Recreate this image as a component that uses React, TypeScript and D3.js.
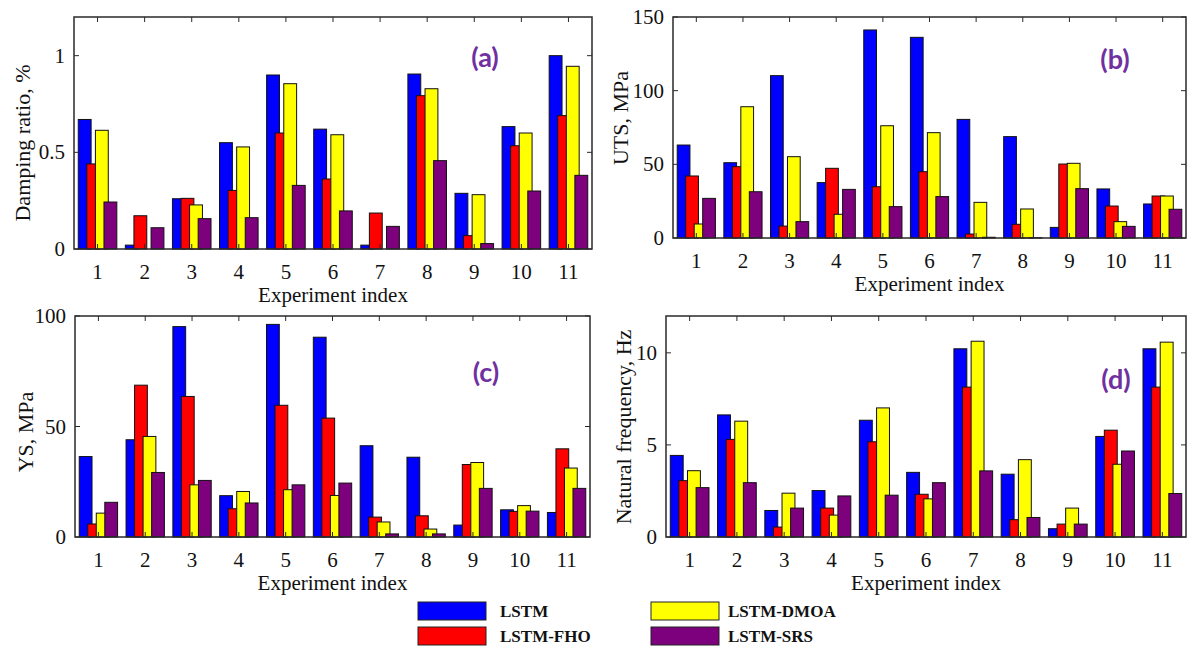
import React from 'react';
import * as d3 from 'd3';

// Experiment indices shared by all four panels
const experiments = [1, 2, 3, 4, 5, 6, 7, 8, 9, 10, 11];

const seriesNames = ['LSTM', 'LSTM-FHO', 'LSTM-DMOA', 'LSTM-SRS'];
const seriesColors = ['#0000ff', '#ff0000', '#ffff00', '#7d007d'];

// (a) Damping ratio, %
const dampingLSTM = [0.67, 0.02, 0.26, 0.55, 0.9, 0.62, 0.02, 0.905, 0.288, 0.633, 1.0];
const dampingFHO = [0.44, 0.172, 0.262, 0.303, 0.6, 0.362, 0.186, 0.793, 0.069, 0.534, 0.69];
const dampingDMOA = [0.614, 0, 0.228, 0.528, 0.855, 0.591, 0, 0.829, 0.281, 0.6, 0.945];
const dampingSRS = [0.243, 0.11, 0.157, 0.162, 0.329, 0.197, 0.117, 0.457, 0.028, 0.3, 0.381];

// (b) UTS, MPa
const utsLSTM = [63.1, 51.1, 110.2, 37.6, 141.2, 136.2, 80.5, 68.8, 7.2, 33.3, 23.1];
const utsFHO = [42.1, 48.4, 8.1, 47.3, 34.8, 45.0, 2.7, 9.3, 50.2, 21.7, 28.5];
const utsDMOA = [9.5, 89.1, 55.2, 16.1, 76.2, 71.5, 24.2, 19.7, 50.7, 11.1, 28.5];
const utsSRS = [26.9, 31.4, 11.1, 33.0, 21.3, 28.1, 0.5, 0.2, 33.5, 7.9, 19.5];

// (c) YS, MPa
const ysLSTM = [36.4, 44.0, 95.2, 18.7, 96.2, 90.4, 41.3, 36.1, 5.4, 12.3, 11.1];
const ysFHO = [5.9, 68.7, 63.6, 12.8, 59.6, 53.8, 9.0, 9.6, 32.8, 11.6, 39.9];
const ysDMOA = [10.8, 45.5, 23.6, 20.6, 21.4, 18.8, 6.8, 3.6, 33.7, 14.2, 31.2];
const ysSRS = [15.7, 29.2, 25.6, 15.4, 23.6, 24.4, 1.4, 1.4, 22.0, 11.7, 22.0];

// (d) Natural frequency, Hz
const freqLSTM = [4.43, 6.63, 1.44, 2.52, 6.34, 3.51, 10.22, 3.41, 0.45, 5.46, 10.22];
const freqFHO = [3.06, 5.3, 0.54, 1.57, 5.17, 2.32, 8.14, 0.94, 0.7, 5.8, 8.14];
const freqDMOA = [3.6, 6.29, 2.38, 1.19, 7.01, 2.07, 10.63, 4.2, 1.57, 3.95, 10.58];
const freqSRS = [2.68, 2.95, 1.57, 2.23, 2.27, 2.95, 3.59, 1.06, 0.7, 4.67, 2.36];

const dampingTicks = [0, 0.5, 1];
const utsTicks = [0, 50, 100, 150];
const ysTicks = [0, 50, 100];
const freqTicks = [0, 5, 10];

const SERIF = '"Liberation Serif", "Times New Roman", serif';
const TAG_FONT = 'Lato, "Open Sans", sans-serif';
const TAG_COLOR = '#7030a0';
const FRAME = '#2a2a2a';
const TEXT_SIZE = 21;

type Panel = {
  series: number[][];
  yMax: number;
  ticks: number[];
  yLabel: string;
  tag: string;
  box: { left: number; right: number; top: number; bottom: number };
  yLabelAt: [number, number];
  tagAt: [number, number];
};

const panels: Panel[] = [
  {
    series: [dampingLSTM, dampingFHO, dampingDMOA, dampingSRS],
    yMax: 1.2,
    ticks: dampingTicks,
    yLabel: 'Damping ratio, %',
    tag: '(a)',
    box: { left: 74, right: 592, top: 17, bottom: 249 },
    yLabelAt: [23, 143],
    tagAt: [485, 58],
  },
  {
    series: [utsLSTM, utsFHO, utsDMOA, utsSRS],
    yMax: 150,
    ticks: utsTicks,
    yLabel: 'UTS, MPa',
    tag: '(b)',
    box: { left: 673, right: 1186, top: 17, bottom: 238 },
    yLabelAt: [621, 118],
    tagAt: [1115, 60],
  },
  {
    series: [ysLSTM, ysFHO, ysDMOA, ysSRS],
    yMax: 100,
    ticks: ysTicks,
    yLabel: 'YS, MPa',
    tag: '(c)',
    box: { left: 75, right: 590, top: 316, bottom: 537 },
    yLabelAt: [26, 432],
    tagAt: [486, 373],
  },
  {
    series: [freqLSTM, freqFHO, freqDMOA, freqSRS],
    yMax: 12,
    ticks: freqTicks,
    yLabel: 'Natural frequency, Hz',
    tag: '(d)',
    box: { left: 666, right: 1186, top: 316, bottom: 537 },
    yLabelAt: [624, 427],
    tagAt: [1116, 380],
  },
];

// grouped bar layout (in category units)
const GROUP_STEP = 0.182;
const BAR_WIDTH = 0.273;
const TICK_LEN = 5;

function BarPanel({ p }: { p: Panel }) {
  const { left, right, top, bottom } = p.box;
  const x = d3.scaleLinear().domain([0.5, experiments.length + 0.5]).range([left, right]);
  const y = d3.scaleLinear().domain([0, p.yMax]).range([bottom, top]);
  const unit = x(1) - x(0);
  const bw = unit * BAR_WIDTH;

  return (
    <g>
      {p.series.map((vals, si) => (
        <g key={si}>
          {experiments.map((e, k) => {
            const cx = x(e + (si - 1.5) * GROUP_STEP);
            const v = vals[k];
            return (
              <rect
                key={k}
                x={cx - bw / 2}
                y={y(v)}
                width={bw}
                height={Math.max(0, y(0) - y(v))}
                fill={seriesColors[si]}
                stroke="#111"
                strokeWidth={1}
              />
            );
          })}
        </g>
      ))}

      {/* frame */}
      <rect
        x={left}
        y={top}
        width={right - left}
        height={bottom - top}
        fill="none"
        stroke={FRAME}
        strokeWidth={1.5}
      />

      {/* x ticks and labels */}
      {experiments.map((e) => (
        <g key={e}>
          <line x1={x(e)} x2={x(e)} y1={bottom} y2={bottom - TICK_LEN} stroke={FRAME} strokeWidth={1} />
          <line x1={x(e)} x2={x(e)} y1={top} y2={top + TICK_LEN} stroke={FRAME} strokeWidth={1} />
          <text x={x(e)} y={bottom + 30} textAnchor="middle" fontFamily={SERIF} fontSize={TEXT_SIZE} fill="#111">
            {e}
          </text>
        </g>
      ))}

      {/* y ticks and labels */}
      {p.ticks.map((t) => (
        <g key={t}>
          <line x1={left} x2={left + TICK_LEN} y1={y(t)} y2={y(t)} stroke={FRAME} strokeWidth={1} />
          <line x1={right} x2={right - TICK_LEN} y1={y(t)} y2={y(t)} stroke={FRAME} strokeWidth={1} />
          <text x={left - 9} y={y(t) + 7} textAnchor="end" fontFamily={SERIF} fontSize={TEXT_SIZE} fill="#111">
            {t}
          </text>
        </g>
      ))}

      <text
        x={(left + right) / 2}
        y={bottom + 53}
        textAnchor="middle"
        fontFamily={SERIF}
        fontSize={TEXT_SIZE}
        fill="#111"
      >
        Experiment index
      </text>

      <text
        transform={`translate(${p.yLabelAt[0]},${p.yLabelAt[1]}) rotate(-90)`}
        dy="0.32em"
        textAnchor="middle"
        fontFamily={SERIF}
        fontSize={22}
        fill="#111"
      >
        {p.yLabel}
      </text>

      <text
        x={p.tagAt[0]}
        y={p.tagAt[1]}
        dy="0.35em"
        textAnchor="middle"
        fontFamily={TAG_FONT}
        fontWeight="bold"
        fontSize={27}
        fill={TAG_COLOR}
      >
        {p.tag}
      </text>
    </g>
  );
}

function Legend() {
  const entries = [
    { name: seriesNames[0], color: seriesColors[0], sx: 418, sy: 602, tx: 500 },
    { name: seriesNames[1], color: seriesColors[1], sx: 418, sy: 627, tx: 500 },
    { name: seriesNames[2], color: seriesColors[2], sx: 651, sy: 602, tx: 728 },
    { name: seriesNames[3], color: seriesColors[3], sx: 651, sy: 627, tx: 728 },
  ];
  return (
    <g>
      {entries.map((d) => (
        <g key={d.name}>
          <rect x={d.sx} y={d.sy} width={68} height={18} fill={d.color} stroke="#222" strokeWidth={1} />
          <text
            x={d.tx}
            y={d.sy + 9}
            dy="0.35em"
            fontFamily={SERIF}
            fontWeight="bold"
            fontSize={17}
            fill="#111"
          >
            {d.name}
          </text>
        </g>
      ))}
    </g>
  );
}

export default function App() {
  return (
    <svg
      width={1192}
      height={648}
      viewBox="0 0 1192 648"
      style={{ position: 'absolute', left: 0, top: 0, background: '#fff' }}
    >
      <rect x={0} y={0} width={1192} height={648} fill="#fff" />
      {panels.map((p) => (
        <BarPanel key={p.tag} p={p} />
      ))}
      <Legend />
    </svg>
  );
}
